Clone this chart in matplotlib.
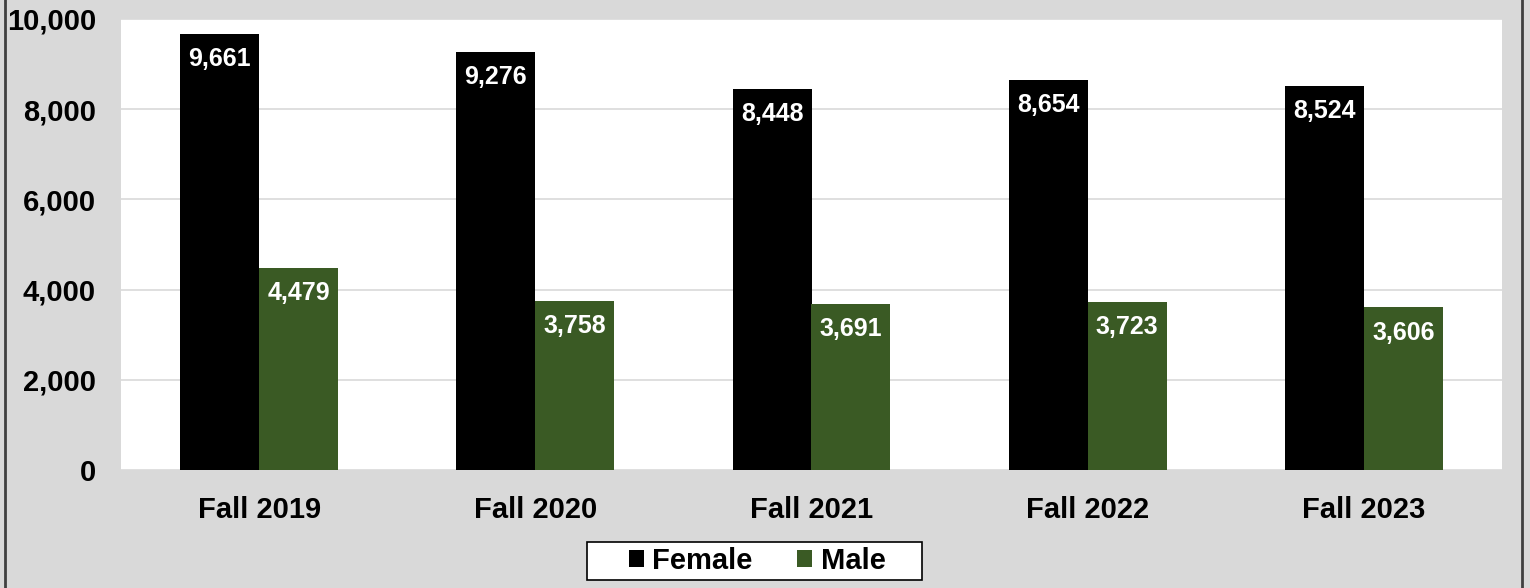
import matplotlib
matplotlib.use("Agg")
import matplotlib.pyplot as plt
import numpy as np
from matplotlib.lines import Line2D
from matplotlib.patches import Rectangle

categories = ["Fall 2019", "Fall 2020", "Fall 2021", "Fall 2022", "Fall 2023"]
female = [9661, 9276, 8448, 8654, 8524]
male = [4479, 3758, 3691, 3723, 3606]
series_names = ["Female", "Male"]
colors = ["#000000", "#3a5a24"]

plt.rcParams['font.family'] = ['Liberation Sans', 'DejaVu Sans']
plt.rcParams['font.weight'] = 'bold'

W, H = 1530, 588
fig = plt.figure(figsize=(15.3, 5.88), dpi=100, facecolor="#d9d9d9")
ax = fig.add_axes([121/W, 1-470/H, (1502-121)/W, (470-19)/H])
ax.set_facecolor("white")

x = np.arange(len(categories))
w = 0.286
b1 = ax.bar(x - w/2, female, w, color=colors[0], label=series_names[0], zorder=3)
b2 = ax.bar(x + w/2, male, w, color=colors[1], label=series_names[1], zorder=3)

for bars in (b1, b2):
    for r in bars:
        v = r.get_height()
        ax.annotate(f"{v:,.0f}", (r.get_x() + r.get_width()/2, v),
                    xytext=(0, -9.5), textcoords="offset points",
                    ha="center", va="top", color="white",
                    fontsize=18, fontweight="bold", zorder=4)

ax.set_xlim(-0.5, len(categories) - 0.5)
ax.set_ylim(0, 10000)
ax.set_yticks(np.arange(0, 10001, 2000))
ax.set_yticklabels([f"{v:,}" for v in range(0, 10001, 2000)])
ax.set_xticks(x)
ax.set_xticklabels(categories)
ax.tick_params(axis='both', length=0, labelsize=21)
ax.tick_params(axis='x', pad=19)
ax.tick_params(axis='y', pad=18)
for lbl in ax.get_xticklabels() + ax.get_yticklabels():
    lbl.set_fontweight("bold")
ax.grid(axis='y', color="#d9d9d9", linewidth=1.2, zorder=0)
for s in ax.spines.values():
    s.set_visible(False)

# legend box
fig.add_artist(Rectangle((587/W, 1-580/H), (922-587)/W, (580-542)/H,
                         transform=fig.transFigure, facecolor="white",
                         edgecolor="black", linewidth=1.2, zorder=5))
leg = fig.legend(loc="center", bbox_to_anchor=(757/W, 1-561/H),
                 ncol=2, frameon=False,
                 fontsize=21, handlelength=0.52, handleheight=0.52,
                 handletextpad=0.3, columnspacing=1.5, borderpad=0.0)
leg.set_zorder(6)
for t in leg.get_texts():
    t.set_fontweight("bold")

fig.add_artist(Line2D([4.5/W, 4.5/W], [0, 1], color="#404040", linewidth=2, transform=fig.transFigure))
fig.add_artist(Line2D([1521.5/W, 1521.5/W], [0, 1], color="#404040", linewidth=2, transform=fig.transFigure))

fig.savefig("out.png", dpi=100, facecolor=fig.get_facecolor())
